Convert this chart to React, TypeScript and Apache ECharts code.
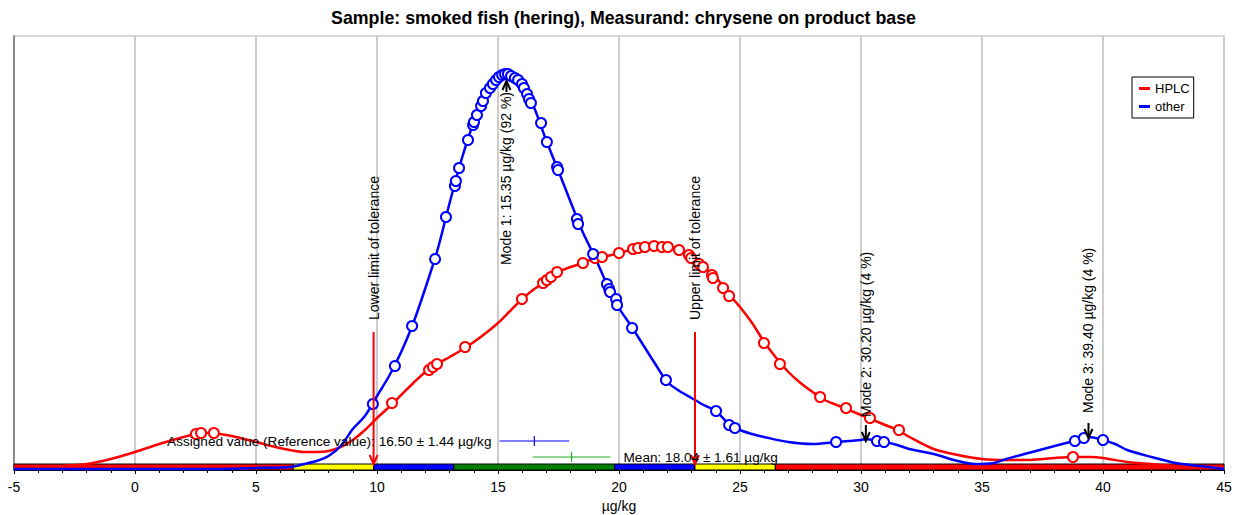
import React, { useEffect, useRef } from "react";
import * as echarts from "echarts";

// Kernel density estimate of the HPLC results: [concentration µg/kg, relative density]
const hplcCurve: [number, number][] = [
  [-5, 3], [-4, 3], [-3, 4], [-2, 6], [-1, 11], [0, 18], [1, 26], [2, 33], [2.5, 36], [3, 37],
  [3.5, 36], [4, 34], [5, 28], [6, 22], [7, 18], [7.5, 18], [8, 19], [8.5, 23], [9, 30], [9.5, 40],
  [10, 52], [10.5, 63], [11, 75], [11.5, 87], [12, 98], [12.5, 106], [13, 113], [13.5, 120], [14, 128],
  [14.5, 137], [15, 147], [15.5, 159], [16, 171], [16.5, 181], [17, 189], [17.5, 198], [18, 203],
  [18.5, 207], [19, 212], [19.5, 214], [20, 217], [20.5, 220], [21, 222], [21.5, 223.5], [22, 223],
  [22.5, 220], [23, 214], [23.5, 203], [24, 193], [24.5, 177], [25, 163], [25.5, 147], [26, 128],
  [26.5, 112], [27, 98], [27.5, 87], [28, 78], [28.5, 70], [29, 65], [29.5, 60], [30, 55], [30.5, 50],
  [31, 45], [31.5, 40], [32, 33], [33, 21], [34, 15], [35, 11], [36, 10], [37, 10], [38, 12],
  [38.8, 13], [39.5, 13], [40, 12], [41, 8], [42, 6], [43, 4], [44, 3], [45, 2],
];

// Kernel density estimate of the other methods' results
const otherCurve: [number, number][] = [
  [-5, 1], [-3, 1], [0, 1], [3, 1], [5, 2], [6, 2.5], [6.5, 3.3], [7, 6], [7.5, 9], [8, 14],
  [8.5, 24], [9, 41], [9.5, 54], [10, 74], [10.5, 94], [11, 118], [11.5, 147], [12, 182], [12.5, 220],
  [13, 267], [13.5, 311], [14, 348], [14.5, 377], [15, 391], [15.35, 396], [15.5, 395], [16, 386],
  [16.5, 362], [17, 329], [17.5, 299], [18, 268], [18.5, 238], [19, 213], [19.5, 186], [20, 162],
  [20.5, 144], [21, 125], [21.5, 106], [22, 88], [22.5, 79], [23, 72], [23.5, 65], [24, 59],
  [24.5, 47], [25, 40], [25.5, 36], [26, 33], [27, 28], [28, 26], [29, 28], [29.5, 29], [30, 30],
  [30.2, 31], [30.5, 30], [31, 28], [31.5, 25], [32, 21], [33, 16], [34, 9], [34.7, 6], [35.5, 7],
  [36, 11], [37, 17.5], [38, 24], [38.8, 29], [39.4, 33], [40, 30], [40.5, 26], [41, 20], [42, 13],
  [43, 7], [44, 4], [45, 1],
];

// Individual laboratory results placed on their density curve
const hplcResults: [number, number][] = [
  [2.52, 36], [2.73, 37], [3.26, 37], [10.62, 67], [12.15, 100], [12.31, 103], [12.48, 106],
  [13.64, 123], [15.99, 171], [16.86, 187], [17.02, 190], [17.19, 193], [17.44, 198], [18.51, 207],
  [19.01, 212], [19.3, 213], [20.0, 217], [20.58, 221], [20.79, 222], [21.07, 223], [21.45, 224],
  [21.78, 223], [22.02, 223], [22.48, 220], [22.89, 215], [22.98, 212], [23.31, 206], [23.47, 203],
  [23.84, 195], [23.88, 192], [24.3, 182], [24.55, 174], [25.99, 127], [26.65, 106], [28.31, 73],
  [29.38, 62], [30.37, 52], [31.57, 40], [38.76, 13],
];

const otherResults: [number, number][] = [
  [9.83, 66], [10.74, 104], [11.45, 144], [12.4, 211], [12.85, 253], [13.22, 284], [13.26, 289],
  [13.39, 302], [13.76, 330], [13.97, 345], [14.01, 348], [14.13, 355], [14.3, 364], [14.38, 369],
  [14.5, 377], [14.67, 382], [14.79, 386], [14.92, 390], [15.04, 393], [15.17, 395], [15.29, 396],
  [15.41, 396], [15.54, 394], [15.7, 392], [15.83, 390], [15.99, 386], [16.07, 382], [16.2, 376],
  [16.28, 371], [16.36, 367], [16.78, 347], [17.02, 328], [17.44, 303], [17.48, 300], [18.26, 251],
  [18.31, 246], [18.93, 216], [19.5, 186], [19.59, 181], [19.63, 178], [19.88, 171], [19.92, 165],
  [20.54, 142], [21.94, 90], [24.01, 59], [24.55, 45], [24.79, 42], [28.97, 28], [30.66, 29],
  [30.95, 28], [38.84, 29], [39.21, 32], [40.0, 30],
];

// Reference statistics
const assignedValue = 16.5;
const assignedUncertainty = 1.44;
const meanValue = 18.04;
const meanUncertainty = 1.61;
const toleranceLower = 9.86;
const toleranceUpper = 23.14;

// z-score bands along the axis
const bandEdges = [-5, 6.54, 9.86, 13.18, 19.82, 23.14, 26.46, 45];
const bandColors = ["#ff0000", "#ffff00", "#0000ff", "#008000", "#0000ff", "#ffff00", "#ff0000"];

// Modes of the density of the other methods
const modeValues = [15.35, 30.2, 39.4];
const modeShares = [92, 4, 4];

const X_MIN = -5;
const X_MAX = 45;
const X_TICKS = 5;

const FONT = '"Liberation Sans", Arial, Helvetica, sans-serif';
const RED = "#ff0000";
const BLUE = "#0000ff";

// Drawing layout (vertical positions in density units)
const BAND_HEIGHT = 6;
const errorBarRows = [29, 13];
const modeArrowSpans: [number, number][] = [[378, 389], [45, 29], [47, 32]];
const modeLabelAnchors: [number, "left" | "right"][] = [[378, "right"], [53, "left"], [57, "left"]];
const toleranceArrowSpan: [number, number] = [138, 6];
const toleranceLabelAnchor = 150;

export default function App() {
  const ref = useRef<HTMLDivElement>(null);

  useEffect(() => {
    if (!ref.current) return;
    const chart = echarts.init(ref.current, undefined, { renderer: "svg" });

    const bands = bandColors.map((c, i) => [bandEdges[i], bandEdges[i + 1]]);

    const arrows = [
      { x: toleranceLower, from: toleranceArrowSpan[0], to: toleranceArrowSpan[1], color: RED },
      { x: toleranceUpper, from: toleranceArrowSpan[0], to: toleranceArrowSpan[1], color: RED },
      ...modeValues.map((m, i) => ({ x: m, from: modeArrowSpans[i][0], to: modeArrowSpans[i][1], color: "#000" })),
    ];

    const notes = [
      { x: toleranceLower, y: toleranceLabelAnchor, text: "Lower limit of tolerance", align: "left" },
      { x: toleranceUpper, y: toleranceLabelAnchor, text: "Upper limit of tolerance", align: "left" },
      ...modeValues.map((m, i) => ({
        x: m,
        y: modeLabelAnchors[i][0],
        text: `Mode ${i + 1}: ${m.toFixed(2)} µg/kg (${modeShares[i]} %)`,
        align: modeLabelAnchors[i][1],
      })),
    ];

    const errorBars = [
      {
        value: assignedValue, u: assignedUncertainty, row: errorBarRows[0], color: BLUE,
        text: `Assigned value (Reference value): ${assignedValue.toFixed(2)} ± ${assignedUncertainty.toFixed(2)} µg/kg`,
        side: "left",
      },
      {
        value: meanValue, u: meanUncertainty, row: errorBarRows[1], color: "#22b022",
        text: `Mean: ${meanValue.toFixed(2)} ± ${meanUncertainty.toFixed(2)} µg/kg`,
        side: "right",
      },
    ];

    const curveSeries = (name: string, data: [number, number][], color: string) => ({
      name,
      type: "line",
      z: 3,
      data,
      smooth: 0.3,
      showSymbol: false,
      lineStyle: { color, width: 2.5 },
      itemStyle: { color },
    });

    const pointSeries = (name: string, data: [number, number][], color: string) => ({
      name,
      type: "scatter",
      z: 4,
      data,
      symbol: "circle",
      symbolSize: 10,
      itemStyle: { color: "#fff", borderColor: color, borderWidth: 2, opacity: 1 },
    });

    const option: any = {
      animation: false,
      backgroundColor: "#fff",
      textStyle: { fontFamily: FONT },
      title: {
        text: "Sample: smoked fish (hering), Measurand: chrysene on product base",
        left: "center",
        top: 9,
        padding: 0,
        textStyle: { fontFamily: FONT, fontSize: 17.8, fontWeight: "bold", color: "#000" },
      },
      legend: {
        orient: "vertical",
        left: 1132,
        top: 77,
        padding: [5, 4, 5, 7],
        itemGap: 5,
        itemWidth: 11,
        itemHeight: 3,
        borderColor: "#000",
        borderWidth: 1,
        backgroundColor: "#fff",
        textStyle: { fontFamily: FONT, fontSize: 13, color: "#000" },
        data: [
          { name: "HPLC", icon: "rect" },
          { name: "other", icon: "rect" },
        ],
      },
      grid: {
        left: 14,
        right: 23,
        top: 36,
        bottom: 45,
        containLabel: false,
        outerBoundsMode: "none",
        show: true,
        borderColor: "#cccccc",
        borderWidth: 1.5,
      },
      xAxis: {
        type: "value",
        min: X_MIN,
        max: X_MAX,
        interval: X_TICKS,
        name: "µg/kg",
        nameLocation: "middle",
        nameGap: 29,
        nameTextStyle: { fontFamily: FONT, fontSize: 14, color: "#000" },
        axisLine: { show: true, lineStyle: { color: "#000", width: 1 } },
        axisTick: { show: true, length: 4, lineStyle: { color: "#000" } },
        minorTick: { show: true, splitNumber: 5, length: 3, lineStyle: { color: "#000" } },
        splitLine: { show: true, lineStyle: { color: "#cccccc", width: 2 } },
        axisLabel: { fontFamily: FONT, fontSize: 14, color: "#000", margin: 10 },
      },
      yAxis: {
        type: "value",
        min: 0,
        max: 434,
        axisLine: { show: true, onZero: false, lineStyle: { color: "#8c8c8c", width: 2 } },
        axisTick: { show: false },
        axisLabel: { show: false },
        splitLine: { show: false },
      },
      series: [
        {
          name: "bands",
          type: "custom",
          z: 1,
          data: bands,
          encode: { x: [0, 1] },
          renderItem: (params: any, api: any) => {
            const p0 = api.coord([api.value(0), BAND_HEIGHT]);
            const p1 = api.coord([api.value(1), 0]);
            return {
              type: "rect",
              shape: { x: p0[0], y: p0[1], width: p1[0] - p0[0], height: p1[1] - p0[1] },
              style: { fill: bandColors[params.dataIndex], stroke: "#000", lineWidth: 1 },
            };
          },
        },
        curveSeries("HPLC", hplcCurve, RED),
        curveSeries("other", otherCurve, BLUE),
        pointSeries("HPLC", hplcResults, RED),
        pointSeries("other", otherResults, BLUE),
        {
          name: "arrows",
          type: "custom",
          z: 5,
          data: arrows.map((a) => [a.x, a.from, a.to]),
          renderItem: (params: any, api: any) => {
            const a = arrows[params.dataIndex];
            const p0 = api.coord([api.value(0), api.value(1)]);
            const p1 = api.coord([api.value(0), api.value(2)]);
            const dir = p1[1] > p0[1] ? 1 : -1;
            const headLen = 9;
            const headHalf = 4;
            return {
              type: "group",
              children: [
                {
                  type: "line",
                  shape: { x1: p0[0], y1: p0[1], x2: p1[0], y2: p1[1] },
                  style: { stroke: a.color, lineWidth: 2 },
                },
                {
                  type: "polyline",
                  shape: {
                    points: [
                      [p1[0] - headHalf, p1[1] - dir * headLen],
                      [p1[0], p1[1]],
                      [p1[0] + headHalf, p1[1] - dir * headLen],
                    ],
                  },
                  style: { stroke: a.color, lineWidth: 2, fill: "none" },
                },
              ],
            };
          },
        },
        {
          name: "notes",
          type: "custom",
          z: 6,
          data: notes.map((n) => [n.x, n.y]),
          renderItem: (params: any, api: any) => {
            const n = notes[params.dataIndex];
            const p = api.coord([api.value(0), api.value(1)]);
            return {
              type: "text",
              x: p[0],
              y: p[1],
              rotation: Math.PI / 2,
              style: {
                text: n.text,
                fill: "#000",
                font: `14px ${FONT}`,
                align: n.align,
                verticalAlign: "middle",
              },
            };
          },
        },
        {
          name: "errorBars",
          type: "custom",
          z: 6,
          data: errorBars.map((e) => [e.value, e.u, e.row]),
          renderItem: (params: any, api: any) => {
            const e = errorBars[params.dataIndex];
            const v = api.value(0);
            const u = api.value(1);
            const row = api.value(2);
            const pl = api.coord([v - u, row]);
            const pr = api.coord([v + u, row]);
            const pc = api.coord([v, row]);
            const left = e.side === "left";
            return {
              type: "group",
              children: [
                {
                  type: "line",
                  shape: { x1: pl[0], y1: pl[1], x2: pr[0], y2: pr[1] },
                  style: { stroke: e.color, lineWidth: 1.2 },
                },
                {
                  type: "line",
                  shape: { x1: pc[0], y1: pc[1] - 5, x2: pc[0], y2: pc[1] + 5 },
                  style: { stroke: e.color, lineWidth: 1.2 },
                },
                {
                  type: "text",
                  x: left ? pl[0] - 8 : pr[0] + 13,
                  y: pc[1],
                  style: {
                    text: e.text,
                    fill: "#000",
                    font: `13.6px ${FONT}`,
                    align: left ? "right" : "left",
                    verticalAlign: "middle",
                  },
                },
              ],
            };
          },
        },
      ],
    };

    chart.setOption(option);
    return () => chart.dispose();
  }, []);

  return (
    <div
      ref={ref}
      style={{ position: "fixed", left: 0, top: 0, width: 1247, height: 515, background: "#fff" }}
    />
  );
}
